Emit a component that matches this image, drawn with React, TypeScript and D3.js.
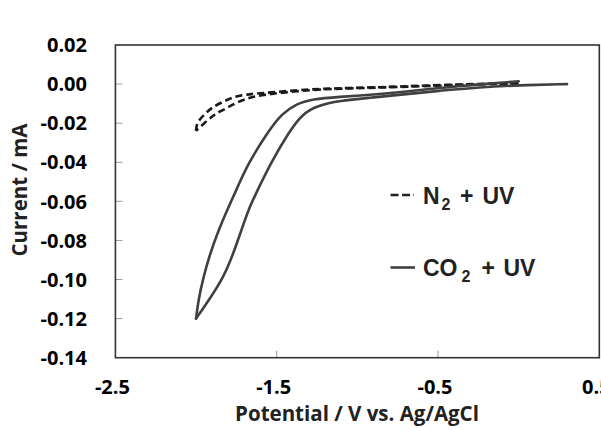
import React from "react";
import * as d3 from "d3";

const co2Potential = [0.30, 0.0, -0.24, -0.49, -0.74, -0.92, -1.11, -1.25, -1.34, -1.42, -1.54, -1.62, -1.67, -1.72, -1.77, -1.83, -1.91, -2.00, -1.986, -1.955, -1.914, -1.862, -1.80, -1.752, -1.68, -1.55, -1.47, -1.38, -1.28, -1.11, -0.92, -0.74, -0.49, -0.24, 0.0];
const co2Current = [0.0, -0.0006, -0.0016, -0.0034, -0.0055, -0.0070, -0.0085, -0.0111, -0.0153, -0.0239, -0.0409, -0.0546, -0.0631, -0.0750, -0.0870, -0.0989, -0.1092, -0.120, -0.1108, -0.0989, -0.0870, -0.0750, -0.0631, -0.0546, -0.0409, -0.0239, -0.0153, -0.0102, -0.0077, -0.0065, -0.0055, -0.0042, -0.0019, -0.0001, 0.0014];

const n2Potential = [0.0, -0.36, -0.74, -1.05, -1.28, -1.604, -1.676, -1.748, -1.821, -1.883, -1.934, -2.00, -1.996, -1.945, -1.903, -1.841, -1.779, -1.707, -1.624, -1.28, -1.05, -0.74, -0.36, 0.0];
const n2Current = [0.0003, -0.0003, -0.0015, -0.0022, -0.0028, -0.0055, -0.0072, -0.0094, -0.0128, -0.0153, -0.0188, -0.0239, -0.0196, -0.0153, -0.0120, -0.0094, -0.0069, -0.0055, -0.0048, -0.0025, -0.0020, -0.0013, -0.0001, 0.0005];

const yTicks = [0.02, 0.0, -0.02, -0.04, -0.06, -0.08, -0.10, -0.12, -0.14];
const xTicks = [-2.5, -1.5, -0.5, 0.5];

const W = 601;
const H = 430;
const L = 115.4, R = 599.3, T = 45, B = 357.7;

type Pt = [number, number];

function branches(pot: number[], cur: number[]): [Pt[], Pt[]] {
  const pts = pot.map((v, i) => [v, cur[i]] as Pt);
  let k = 0;
  pot.forEach((v, i) => {
    if (v < pot[k]) k = i;
  });
  return [pts.slice(0, k + 1), pts.slice(k)];
}

export default function App() {
  const x = d3.scaleLinear().domain([-2.5, 0.5]).range([L, R]);
  const y = d3.scaleLinear().domain([-0.14, 0.02]).range([B, T]);
  const line = d3
    .line<Pt>()
    .x((d) => x(d[0]))
    .y((d) => y(d[1]))
    .curve(d3.curveBasis);
  const [co2F, co2R] = branches(co2Potential, co2Current);
  const [n2F, n2R] = branches(n2Potential, n2Current);
  const tickFont = "'Open Sans', sans-serif";
  const legFont = "'Liberation Sans', Arial, sans-serif";
  const fmtY = (v: number) => (v < 0 ? "-" : "") + Math.abs(v).toFixed(2);
  const fmtX = (v: number) => (v < 0 ? "-" : "") + Math.abs(v).toFixed(1);
  return (
    <svg
      width={W}
      height={H}
      style={{ position: "absolute", left: 0, top: 0, background: "#fff" }}
    >
      <rect x={0} y={0} width={W} height={H} fill="#fff" />
      {yTicks.slice(1, -1).map((t) => (
        <line key={"yt" + t} x1={L} x2={L + 7} y1={y(t)} y2={y(t)} stroke="#999" strokeWidth={1} />
      ))}
      {xTicks.slice(1, -1).map((t) => (
        <line key={"xt" + t} x1={x(t)} x2={x(t)} y1={B} y2={B - 7} stroke="#999" strokeWidth={1} />
      ))}
      {[n2F, n2R].map((b, i) => (
        <path key={"n2" + i} d={line(b) || ""} fill="none" stroke="#1a1a1a" strokeWidth={2.6} strokeDasharray="7,4" />
      ))}
      {[co2F, co2R].map((b, i) => (
        <path key={"co2" + i} d={line(b) || ""} fill="none" stroke="#404040" strokeWidth={2.6} strokeLinejoin="round" strokeLinecap="round" />
      ))}
      <rect x={L} y={T} width={R - L} height={B - T} fill="none" stroke="#333" strokeWidth={1.6} />
      {yTicks.map((t) => (
        <text key={"yl" + t} x={87} y={y(t)} dy="0.36em" textAnchor="end" fontFamily={tickFont} fontWeight="bold" fontSize={20} fill="#000">
          {fmtY(t)}
        </text>
      ))}
      {xTicks.map((t) => (
        <text key={"xl" + t} x={x(t) - 3} y={386.5} dy="0.36em" textAnchor="middle" fontFamily={tickFont} fontWeight="bold" fontSize={20} fill="#000">
          {fmtX(t)}
        </text>
      ))}
      <text x={357} y={414} dy="0.36em" textAnchor="middle" fontFamily={tickFont} fontWeight="bold" fontSize={20.5} fill="#222">
        Potential / V vs. Ag/AgCl
      </text>
      <text transform={`translate(20,190) rotate(-90)`} dy="0.36em" textAnchor="middle" fontFamily={tickFont} fontWeight="bold" fontSize={20.5} fill="#222">
        Current / mA
      </text>
      <line x1={390.5} x2={414} y1={195} y2={195} stroke="#222" strokeWidth={2.6} strokeDasharray="8,3.5" />
      <text y={203.5} fontFamily={legFont} fontWeight="bold" fontSize={23} fill="#222">
        <tspan x={423}>N</tspan>
        <tspan x={441.5} fontSize={16} dy={6}>2</tspan>
        <tspan x={460} dy={-6}>+</tspan>
        <tspan x={482.5}>UV</tspan>
      </text>
      <line x1={390.5} x2={415} y1={267.5} y2={267.5} stroke="#404040" strokeWidth={2.6} />
      <text y={275.5} fontFamily={legFont} fontWeight="bold" fontSize={23} fill="#222">
        <tspan x={423}>CO</tspan>
        <tspan x={461.5} fontSize={16} dy={6}>2</tspan>
        <tspan x={481.5} dy={-6}>+</tspan>
        <tspan x={503.5}>UV</tspan>
      </text>
    </svg>
  );
}
